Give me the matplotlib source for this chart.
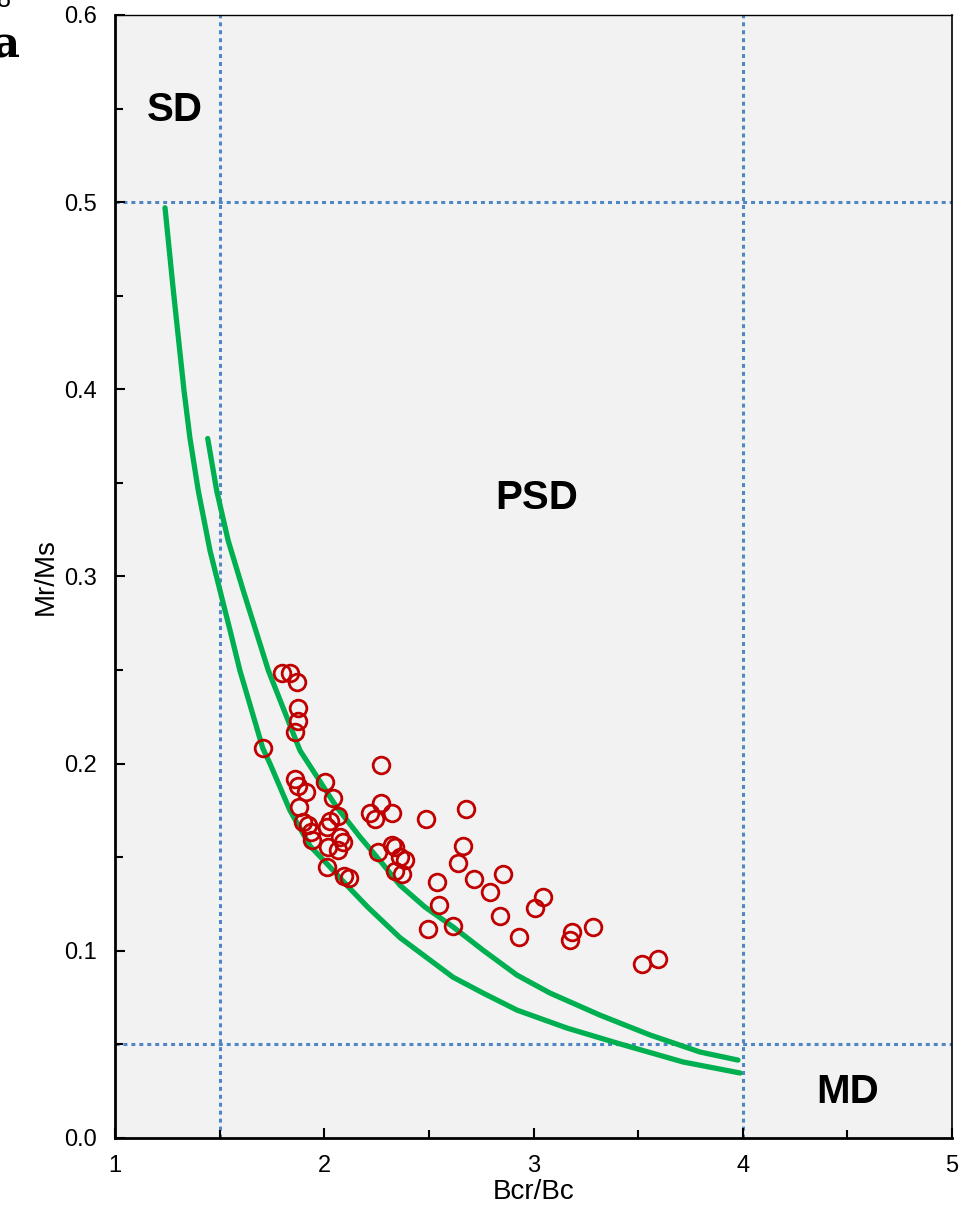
import matplotlib
matplotlib.use("Agg")
import matplotlib.pyplot as plt
from matplotlib.ticker import MultipleLocator

plt.rcParams['font.family'] = ['Liberation Sans', 'DejaVu Sans']

# sample points (Bcr/Bc, Mr/Ms)
bcr_bc = [1.797, 1.837, 1.872, 1.874, 1.876, 1.860, 1.706, 2.270, 1.860, 1.876,
          1.913, 2.003, 2.040, 2.270, 2.218, 2.242, 2.322, 1.879, 1.897, 1.924,
          1.935, 1.940, 2.027, 2.067, 2.011, 2.075, 2.091, 2.019, 2.067, 2.013,
          2.094, 2.118, 2.486, 2.675, 2.258, 2.322, 2.338, 2.362, 2.386, 2.338,
          2.371, 2.664, 2.638, 2.537, 2.716, 2.853, 2.792, 2.548, 2.497, 2.613,
          2.840, 2.931, 3.007, 3.047, 3.185, 3.174, 3.286, 3.517, 3.593]
mr_ms = [0.2483, 0.2483, 0.2435, 0.2299, 0.2227, 0.2168, 0.2083, 0.1995, 0.1919, 0.1883,
         0.1846, 0.1900, 0.1817, 0.1790, 0.1735, 0.1702, 0.1735, 0.1768, 0.1688, 0.1670,
         0.1633, 0.1590, 0.1692, 0.1718, 0.1660, 0.1606, 0.1579, 0.1553, 0.1537, 0.1449,
         0.1401, 0.1390, 0.1702, 0.1755, 0.1527, 0.1563, 0.1553, 0.1499, 0.1483, 0.1425,
         0.1411, 0.1558, 0.1470, 0.1370, 0.1384, 0.1411, 0.1313, 0.1243, 0.1115, 0.1131,
         0.1186, 0.1074, 0.1229, 0.1285, 0.1101, 0.1057, 0.1128, 0.0932, 0.0958]

# mixing curve 1 (long one, starts at 0.5)
curve1_x = [1.239, 1.279, 1.330, 1.358, 1.398, 1.454, 1.502, 1.550, 1.597, 1.706,
            1.741, 1.836, 1.932, 2.027, 2.123, 2.209, 2.362, 2.615, 2.759, 2.921,
            3.160, 3.399, 3.714, 3.987]
curve1_y = [0.497, 0.4525, 0.3991, 0.3740, 0.3458, 0.3138, 0.2924, 0.2711, 0.2497, 0.2083,
            0.1999, 0.1750, 0.1560, 0.1448, 0.1332, 0.1232, 0.1070, 0.0859, 0.0774, 0.0683,
            0.0587, 0.0507, 0.0406, 0.0347]

# mixing curve 2 (shorter one)
curve2_x = [1.443, 1.486, 1.541, 1.613, 1.733, 1.884, 2.059, 2.171, 2.282, 2.362,
            2.481, 2.615, 2.759, 2.921, 3.079, 3.318, 3.557, 3.796, 3.977]
curve2_y = [0.3737, 0.3458, 0.3191, 0.2924, 0.2497, 0.2070, 0.1768, 0.1608, 0.1460, 0.1350,
            0.1234, 0.1128, 0.1003, 0.0870, 0.0774, 0.0656, 0.0550, 0.0459, 0.0416]

# domain boundaries
bcr_limits = [1.5, 4.0]
mr_limits = [0.5, 0.05]

fig = plt.figure(figsize=(9.64, 12.19), dpi=100)
ax = fig.add_axes([0.1193, 0.0665, 0.8683, 0.9212])
ax.set_facecolor('#f2f2f2')

dots = (0, (1.3, 1.3))
for xv in bcr_limits:
    ax.axvline(xv, color='#4f86c6', linestyle=dots, linewidth=2.2, zorder=1)
for yv in mr_limits:
    ax.axhline(yv, color='#4f86c6', linestyle=dots, linewidth=2.2, zorder=1)

ax.plot(curve1_x, curve1_y, color='#00b050', linewidth=3.8,
        solid_capstyle='round', solid_joinstyle='round', zorder=2)
ax.plot(curve2_x, curve2_y, color='#00b050', linewidth=3.8,
        solid_capstyle='round', solid_joinstyle='round', zorder=2)

ax.plot(bcr_bc, mr_ms, linestyle='none', marker='o', markersize=12,
        markerfacecolor='none', markeredgecolor='#c00000', markeredgewidth=2.0, zorder=3)

ax.text(1.287, 0.549, 'SD', fontsize=29, fontweight='bold', ha='center', va='center')
ax.text(3.017, 0.342, 'PSD', fontsize=29, fontweight='bold', ha='center', va='center')
ax.text(4.503, 0.0245, 'MD', fontsize=29, fontweight='bold', ha='center', va='center')

ax.set_xlim(1, 5)
ax.set_ylim(0, 0.6)
ax.xaxis.set_major_locator(MultipleLocator(1))
ax.xaxis.set_minor_locator(MultipleLocator(0.5))
ax.yaxis.set_major_locator(MultipleLocator(0.1))
ax.yaxis.set_minor_locator(MultipleLocator(0.05))
ax.yaxis.set_major_formatter(plt.FormatStrFormatter('%.1f'))
ax.tick_params(which='both', direction='in', labelsize=17, color='black')
ax.tick_params(axis='y', which='both', pad=13, right=False)
ax.tick_params(axis='x', which='both', pad=12, top=False)
ax.tick_params(which='major', length=7, width=1.5)
ax.tick_params(which='minor', length=6, width=1.5)

for side in ['left', 'bottom']:
    ax.spines[side].set_linewidth(2.0)
ax.spines['top'].set_linewidth(1.0)
ax.spines['right'].set_linewidth(1.2)

ax.set_xlabel('Bcr/Bc', fontsize=20, labelpad=2)
ax.set_ylabel('Mr/Ms', fontsize=20, labelpad=4)

# leftovers of the neighbouring panel labels
fig.text(-0.008, 0.963, 'a', fontsize=30, fontweight='bold', family='DejaVu Serif', va='center')
fig.text(-0.003, 1.0, '8', fontsize=18, va='center')

fig.savefig('out.png', dpi=100)
